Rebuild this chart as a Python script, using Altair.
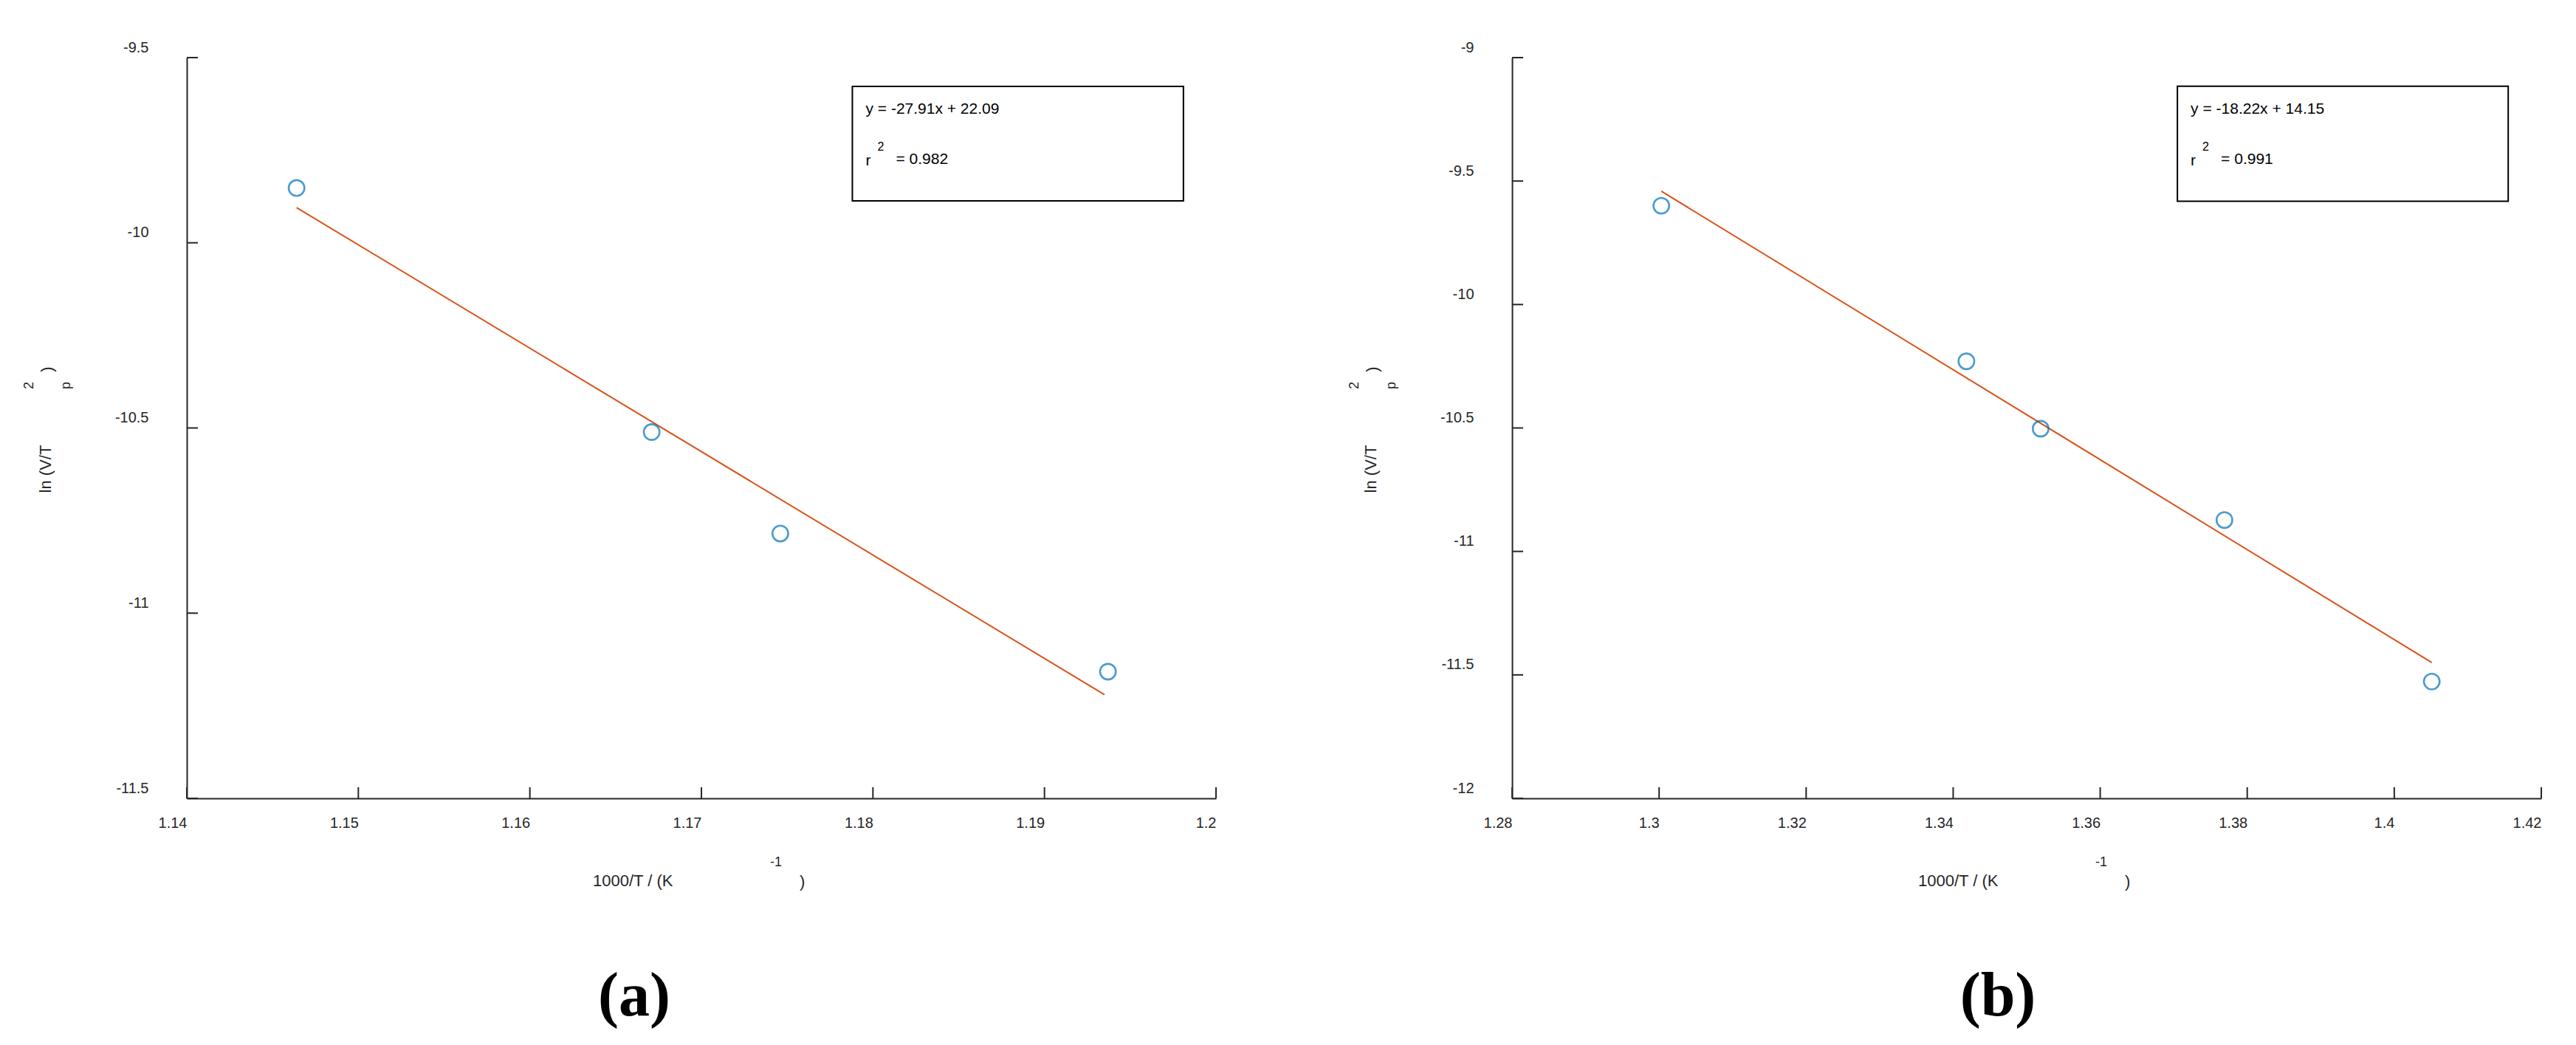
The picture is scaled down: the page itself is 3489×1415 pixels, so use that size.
import altair as alt
import pandas as pd

# ---------------- data ----------------
# panel (a)
a_x = [1.1464, 1.1671, 1.1746, 1.1937]
a_y = [-9.852, -10.511, -10.785, -11.158]
a_fit_x = [1.1464, 1.1935]
a_fit_y = [-9.905, -11.22]
a_xticks = [1.14, 1.15, 1.16, 1.17, 1.18, 1.19, 1.2]
a_yticks = [-9.5, -10, -10.5, -11, -11.5]
a_box = [1.1788, 1.1981, -9.578, -9.887]  # x, x2, y, y2
a_eq = "y = -27.91x + 22.09"
a_r2 = "= 0.982"

# panel (b)
b_x = [1.3003, 1.3418, 1.3519, 1.3769, 1.4051]
b_y = [-9.60, -10.23, -10.503, -10.873, -11.527]
b_fit_x = [1.3003, 1.4051]
b_fit_y = [-9.541, -11.45]
b_xticks = [1.28, 1.3, 1.32, 1.34, 1.36, 1.38, 1.4, 1.42]
b_yticks = [-9, -9.5, -10, -10.5, -11, -11.5, -12]
b_box = [1.3705, 1.4155, -9.116, -9.582]
b_eq = "y = -18.22x + 14.15"
b_r2 = "= 0.991"

W, H = 1394, 1003
AXC = "#262626"
FONT = "Liberation Sans"


def panel(px, py, fx, fy, xt, yt, box, eq, r2, tag, tag_x):
    xs = alt.Scale(domain=[xt[0], xt[-1]], nice=False, zero=False)
    ys = alt.Scale(domain=[yt[-1], yt[0]], nice=False, zero=False)
    xaxis = alt.Axis(values=xt, labelExpr="datum.value + ''", grid=False, ticks=False,
                     tickSize=0, domainColor=AXC, domainWidth=2, labelAlign="right",
                     labelBaseline="top", labelPadding=23, labelFontSize=20, labelFont=FONT,
                     labelColor=AXC, labelFlush=False, labelOverlap=False, title=None)
    yaxis = alt.Axis(values=yt, labelExpr="datum.value + ''", grid=False, ticks=False,
                     tickSize=0, domainColor=AXC, domainWidth=2, labelAlign="right",
                     labelBaseline="middle", labelPadding=52, labelOffset=-14,
                     labelFontSize=20, labelFont=FONT, labelColor=AXC,
                     labelFlush=False, labelOverlap=False, title=None)

    def X(f):
        return alt.X(f, scale=xs, axis=xaxis)

    def Y(f):
        return alt.Y(f, scale=ys, axis=yaxis)

    pts = alt.Chart(pd.DataFrame({"x": px, "y": py})).mark_point(
        shape="circle", filled=False, size=454, strokeWidth=2.6, color="#0072BD"
    ).encode(x=X("x:Q"), y=Y("y:Q"))

    fit = alt.Chart(pd.DataFrame({"x": fx, "y": fy})).mark_line(
        color="#D95319", strokeWidth=2
    ).encode(x=X("x:Q"), y=Y("y:Q"))

    ytick = alt.Chart(pd.DataFrame({"y": yt})).mark_rule(color=AXC, strokeWidth=2).encode(
        y=Y("y:Q"), x=alt.value(0), x2=alt.value(15))
    xtick = alt.Chart(pd.DataFrame({"x": xt})).mark_rule(color=AXC, strokeWidth=2).encode(
        x=X("x:Q"), y=alt.value(H), y2=alt.value(H - 15))

    bdf = pd.DataFrame({"x": [box[0]], "x2": [box[1]], "y": [box[2]], "y2": [box[3]]})
    rect = alt.Chart(bdf).mark_rect(fill="white", stroke="black", strokeWidth=2).encode(
        x=X("x:Q"), x2="x2:Q", y=Y("y:Q"), y2="y2:Q")

    def btext(txt, dx, dy, size, baseline):
        return alt.Chart(bdf).mark_text(
            text=txt, align="left", baseline=baseline, dx=dx, dy=dy,
            fontSize=size, font=FONT, color="black"
        ).encode(x=X("x:Q"), y=Y("y:Q"))

    t_eq = btext(eq, 18, 31, 21, "middle")
    t_r = btext("r", 18, 107, 21, "alphabetic")
    t_2 = btext("2", 34, 82, 16, "middle")
    t_r2 = btext(r2, 59, 105, 21, "alphabetic")

    one = alt.Data(values=[{}])

    def ptext(txt, x, y, size, angle=0, align="center", baseline="middle",
              font=FONT, weight="normal", color=AXC):
        return alt.Chart(one).mark_text(
            text=txt, align=align, baseline=baseline, angle=angle, fontSize=size,
            font=font, fontWeight=weight, color=color
        ).encode(x=alt.value(x), y=alt.value(y))

    titles = [
        ptext("ln (V/T", -191, 557, 22, angle=270),
        ptext("2", -213, 444, 18, angle=270),
        ptext("p", -163, 444, 18, angle=270),
        ptext(")", -189, 422, 22, angle=270),
        ptext("1000/T / (K", 550, 1115, 22, align="left"),
        ptext("-1", 790, 1090, 18, align="left"),
        ptext(")", 830, 1116, 22, align="left"),
        ptext(tag, tag_x, 1297, 84, baseline="alphabetic", font="Liberation Serif",
              weight="bold", color="black"),
    ]

    return alt.layer(fit, pts, ytick, xtick, rect, t_eq, t_r, t_2, t_r2, *titles).properties(
        width=W, height=H)


pa = panel(a_x, a_y, a_fit_x, a_fit_y, a_xticks, a_yticks, a_box, a_eq, a_r2, "(a)", 606)
pb = panel(b_x, b_y, b_fit_x, b_fit_y, b_xticks, b_yticks, b_box, b_eq, b_r2, "(b)", 658)

chart = alt.hconcat(pa, pb, spacing=178).configure_view(stroke=None).properties(
    padding={"left": 23, "top": 46, "right": 5, "bottom": 5},
    background="white",
)

chart.save("out.html", embed_options={"renderer": "svg", "actions": False})
